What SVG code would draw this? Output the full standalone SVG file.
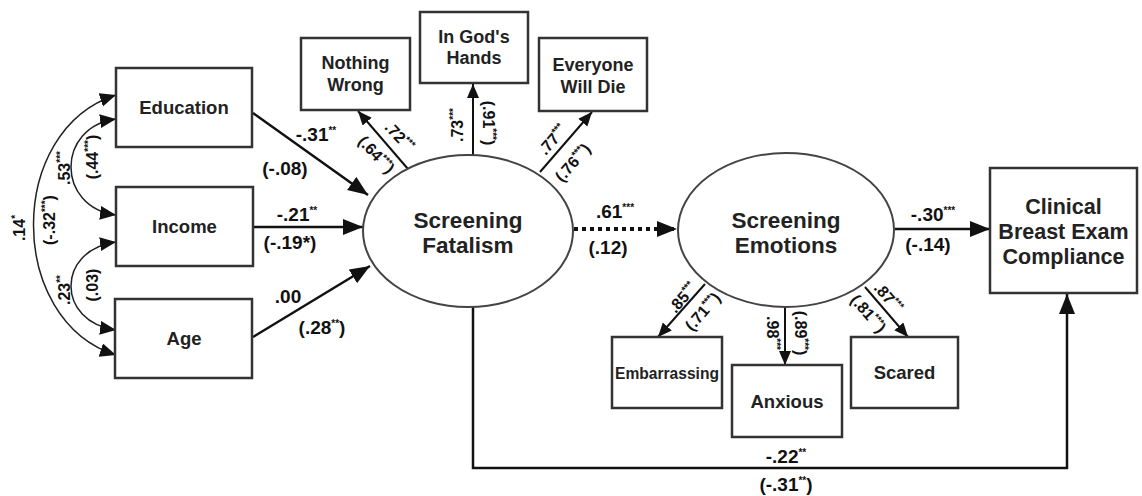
<svg xmlns="http://www.w3.org/2000/svg" width="1142" height="496" viewBox="0 0 1142 496">
<style>
.box{fill:#fff;stroke:#333;stroke-width:2.5}
.ell{fill:#fff;stroke:#444;stroke-width:2}
.nt{font-family:"Liberation Sans",Arial,sans-serif;font-weight:bold;fill:#222;text-anchor:middle}
.lb{font-family:"Liberation Sans",Arial,sans-serif;font-weight:bold;fill:#111;text-anchor:middle;font-size:19px}
.rl{font-family:"Liberation Sans",Arial,sans-serif;font-weight:bold;fill:#111;text-anchor:middle;font-size:16px}
.s{font-size:10px}
.e{fill:none;stroke:#111;stroke-width:2.5}
.ei{fill:none;stroke:#111;stroke-width:2}
.c{fill:none;stroke:#222;stroke-width:1.5}
</style>
<defs>
<marker id="big" markerUnits="userSpaceOnUse" markerWidth="22" markerHeight="18" refX="20" refY="8" orient="auto"><path d="M0,0 L20,8 L0,16 z" fill="#111"/></marker>
<marker id="med" markerUnits="userSpaceOnUse" markerWidth="16" markerHeight="14" refX="14" refY="6" orient="auto"><path d="M0,0 L14,6 L0,12 z" fill="#111"/></marker>
<marker id="cv" markerUnits="userSpaceOnUse" markerWidth="18" markerHeight="16" refX="16" refY="7" orient="auto-start-reverse"><path d="M0,0 L16,7 L0,14 z" fill="#111"/></marker>
</defs>

<g id="connectors">
<path class="c" d="M116,95 C6,130 6,320 116,355" marker-start="url(#cv)" marker-end="url(#cv)"/>
<path class="c" d="M116,119 C56,127 56,207 116,215" marker-start="url(#cv)" marker-end="url(#cv)"/>
<path class="c" d="M116,242 C56,250 56,322 116,330" marker-start="url(#cv)" marker-end="url(#cv)"/>
<line class="e" x1="253" y1="113" x2="368" y2="195" marker-end="url(#big)"/>
<line class="e" x1="253" y1="227" x2="363" y2="227" marker-end="url(#big)"/>
<line class="e" x1="253" y1="337" x2="370" y2="266" marker-end="url(#big)"/>
<line class="ei" x1="408" y1="169" x2="358" y2="111" marker-end="url(#med)"/>
<line class="ei" x1="473" y1="155" x2="473" y2="84" marker-end="url(#med)"/>
<line class="ei" x1="540" y1="172" x2="592" y2="112" marker-end="url(#med)"/>
<line x1="574" y1="229" x2="677" y2="229" stroke="#111" stroke-width="4" stroke-dasharray="4,4" marker-end="url(#big)"/>
<line class="e" x1="895" y1="229" x2="990" y2="229" marker-end="url(#big)"/>
<line class="ei" x1="705" y1="284" x2="658" y2="337" marker-end="url(#med)"/>
<line class="ei" x1="785" y1="307" x2="785" y2="365" marker-end="url(#med)"/>
<line class="ei" x1="865" y1="287" x2="908" y2="337" marker-end="url(#med)"/>
<path class="e" d="M473,307 V468 H1067 V294" marker-end="url(#big)"/>

<text class="rl" transform="translate(20,228) rotate(-90)" dy="5">.14<tspan class="s" dy="-6">*</tspan></text>
<text class="rl" transform="translate(50,220) rotate(-90)" dy="5">(-.32<tspan class="s" dy="-6">***</tspan><tspan dy="6">)</tspan></text>
<text class="rl" transform="translate(65,168) rotate(-90)" dy="5">.53<tspan class="s" dy="-6">***</tspan></text>
<text class="rl" transform="translate(93,157) rotate(-90)" dy="5">(.44<tspan class="s" dy="-6">***</tspan><tspan dy="6">)</tspan></text>
<text class="rl" transform="translate(65,290) rotate(-90)" dy="5">.23<tspan class="s" dy="-6">**</tspan></text>
<text class="rl" transform="translate(93,285) rotate(-90)" dy="5">(.03)</text>

<text class="lb" x="316" y="141">-.31<tspan class="s" dy="-7">**</tspan></text>
<text class="lb" x="285" y="175">(-.08)</text>
<text class="lb" x="297" y="221">-.21<tspan class="s" dy="-7">**</tspan></text>
<text class="lb" x="290" y="249">(-.19*)</text>
<text class="lb" x="288" y="303">.00</text>
<text class="lb" x="322" y="334">(.28<tspan class="s" dy="-7">**</tspan><tspan dy="7">)</tspan></text>

<text class="rl" transform="translate(399,137) rotate(47)" dy="5">.72<tspan class="s" dy="-6">***</tspan></text>
<text class="rl" transform="translate(376,155) rotate(47)" dy="5">(.64<tspan class="s" dy="-6">***</tspan><tspan dy="6">)</tspan></text>
<text class="rl" transform="translate(458,125) rotate(-90)" dy="5">.73<tspan class="s" dy="-6">***</tspan></text>
<text class="rl" transform="translate(488,123) rotate(90)" dy="5">(.91<tspan class="s" dy="-6">***</tspan><tspan dy="6">)</tspan></text>
<text class="rl" transform="translate(553,140) rotate(-49)" dy="5">.77<tspan class="s" dy="-6">***</tspan></text>
<text class="rl" transform="translate(573,163) rotate(-49)" dy="5">(.76<tspan class="s" dy="-6">***</tspan><tspan dy="6">)</tspan></text>

<text class="lb" x="615" y="218">.61<tspan class="s" dy="-7">***</tspan></text>
<text class="lb" x="608" y="254">(.12)</text>
<text class="lb" x="933" y="221">-.30<tspan class="s" dy="-7">***</tspan></text>
<text class="lb" x="928" y="251">(-.14)</text>

<text class="rl" transform="translate(683,298) rotate(-49)" dy="5">.85<tspan class="s" dy="-6">***</tspan></text>
<text class="rl" transform="translate(703,312) rotate(-49)" dy="5">(.71<tspan class="s" dy="-6">***</tspan><tspan dy="6">)</tspan></text>
<text class="rl" transform="translate(772,333) rotate(90)" dy="5">.98<tspan class="s" dy="-6">***</tspan></text>
<text class="rl" transform="translate(800,333) rotate(90)" dy="5">(.89<tspan class="s" dy="-6">***</tspan><tspan dy="6">)</tspan></text>
<text class="rl" transform="translate(888,298) rotate(49)" dy="5">.87<tspan class="s" dy="-6">***</tspan></text>
<text class="rl" transform="translate(868,314) rotate(49)" dy="5">(.81<tspan class="s" dy="-6">***</tspan><tspan dy="6">)</tspan></text>

<text class="lb" x="786" y="463">-.22<tspan class="s" dy="-7">**</tspan></text>
<text class="lb" x="786" y="491">(-.31<tspan class="s" dy="-7">**</tspan><tspan dy="7">)</tspan></text>
</g>

<g id="education"><rect class="box" x="116" y="68" width="136" height="79"/><text class="nt" x="184" y="114" font-size="18.5">Education</text></g>
<g id="income"><rect class="box" x="116" y="187" width="137" height="79"/><text class="nt" x="184.5" y="233" font-size="18.5">Income</text></g>
<g id="age"><rect class="box" x="115" y="299" width="137" height="79"/><text class="nt" x="184" y="345" font-size="18.5">Age</text></g>

<g id="nothing-wrong"><rect class="box" x="301" y="38" width="109" height="72"/><text class="nt" x="355.5" y="69" font-size="18">Nothing</text><text class="nt" x="355.5" y="91" font-size="18">Wrong</text></g>
<g id="in-gods-hands"><rect class="box" x="420" y="12" width="108" height="71"/><text class="nt" x="474" y="43" font-size="18">In God's</text><text class="nt" x="474" y="64" font-size="18">Hands</text></g>
<g id="everyone-will-die"><rect class="box" x="539" y="38" width="108" height="73"/><text class="nt" x="593" y="71" font-size="18">Everyone</text><text class="nt" x="593" y="93" font-size="18">Will Die</text></g>

<g id="screening-fatalism"><ellipse class="ell" cx="468" cy="231" rx="105" ry="76"/><text class="nt" x="468" y="228" font-size="22.5">Screening</text><text class="nt" x="468" y="253" font-size="22.5">Fatalism</text></g>
<g id="screening-emotions"><ellipse class="ell" cx="786" cy="230" rx="108" ry="77"/><text class="nt" x="786" y="228" font-size="22.5">Screening</text><text class="nt" x="786" y="253" font-size="22.5">Emotions</text></g>

<g id="cbe-compliance"><rect class="box" x="990" y="168" width="147" height="125"/><text class="nt" x="1063.5" y="214" font-size="21.5">Clinical</text><text class="nt" x="1063.5" y="239" font-size="21.5">Breast Exam</text><text class="nt" x="1063.5" y="264" font-size="21.5">Compliance</text></g>

<g id="embarrassing"><rect class="box" x="612" y="337" width="110" height="71"/><text class="nt" x="667" y="379" font-size="17" textLength="104" lengthAdjust="spacingAndGlyphs">Embarrassing</text></g>
<g id="anxious"><rect class="box" x="732" y="365" width="110" height="72"/><text class="nt" x="787" y="408" font-size="18.5">Anxious</text></g>
<g id="scared"><rect class="box" x="851" y="337" width="107" height="71"/><text class="nt" x="904.5" y="379" font-size="18.5">Scared</text></g>
</svg>
